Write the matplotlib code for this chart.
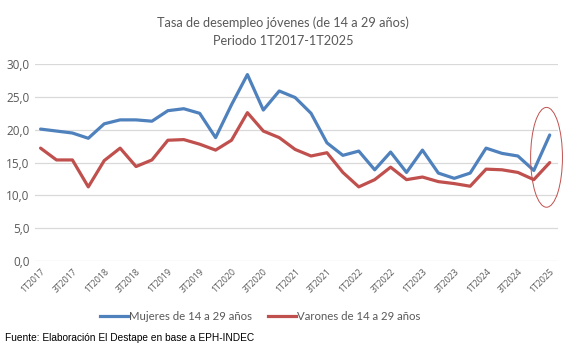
import matplotlib.pyplot as plt
from matplotlib.patches import Ellipse
from matplotlib.lines import Line2D

# quarters 1T2017 .. 1T2025
quarters = []
for year in range(2017, 2026):
    for q in range(1, 5):
        quarters.append(f"{q}T{year}")
quarters = quarters[:33]

mujeres = [20.1, 19.8, 19.5, 18.7, 20.9, 21.5, 21.5, 21.3, 22.9, 23.2, 22.5, 18.8,
           23.8, 28.4, 23.0, 25.9, 24.9, 22.5, 18.0, 16.1, 16.75, 13.9, 16.6, 13.5,
           16.9, 13.4, 12.6, 13.4, 17.2, 16.4, 16.0, 13.8, 19.2]
varones = [17.2, 15.4, 15.4, 11.3, 15.3, 17.2, 14.4, 15.4, 18.4, 18.5, 17.8, 16.9,
           18.4, 22.6, 19.8, 18.8, 17.0, 16.0, 16.5, 13.5, 11.3, 12.4, 14.3, 12.4,
           12.8, 12.1, 11.8, 11.4, 14.0, 13.9, 13.5, 12.4, 15.0]

blue = '#4f81bd'
red = '#c0504d'
gray = '#595959'

fig = plt.figure(figsize=(5.69, 3.5), dpi=100)
ax = fig.add_axes([0.0615, 0.254, 0.92, 0.563])

x = list(range(len(quarters)))
ax.plot(x, mujeres, color=blue, linewidth=2.3, solid_capstyle='round', zorder=3)
ax.plot(x, varones, color=red, linewidth=2.3, solid_capstyle='round', zorder=3)

# highlight of the last quarter
ax.add_patch(Ellipse((31.8, 15.8), 2.0, 15.2, fill=False, edgecolor=red,
                     linewidth=0.7, zorder=4, clip_on=False))

ax.set_xlim(-0.35, 32.55)
ax.set_ylim(0, 30)
yt = [0, 5, 10, 15, 20, 25, 30]
ax.set_yticks(yt)
ax.set_yticklabels([f"{v:.1f}".replace('.', ',') for v in yt], fontsize=8.5, color=gray, family='Open Sans')
ax.set_xticks(x[::2])
ax.set_xticklabels(quarters[::2], rotation=45, ha='right', rotation_mode='anchor',
                   fontsize=6.3, color=gray, family='Open Sans')
ax.tick_params(length=0, pad=4)
ax.yaxis.grid(True, color='#d9d9d9', linewidth=0.9)
ax.set_axisbelow(True)
for s in ax.spines.values():
    s.set_visible(False)

fig.text(0.497, 0.935, "Tasa de desempleo jóvenes (de 14 a 29 años)", ha='center', va='center',
         fontsize=9.2, color=gray, family='Lato')
fig.text(0.497, 0.884, "Periodo 1T2017-1T2025", ha='center', va='center',
         fontsize=9.2, color=gray, family='Lato')

handles = [Line2D([0], [0], color=blue, linewidth=2.3),
           Line2D([0], [0], color=red, linewidth=2.3)]
fig.legend(handles, ["Mujeres de 14 a 29 años", "Varones de 14 a 29 años"],
           loc='center', bbox_to_anchor=(0.458, 0.097), ncol=2, frameon=False,
           handlelength=2.4, handletextpad=0.15, columnspacing=1.4,
           prop={'family': 'Lato', 'size': 8.2}, labelcolor=gray)

fig.text(0.009, 0.034, "Fuente: Elaboración El Destape en base a EPH-INDEC", ha='left', va='center',
         fontsize=7.3, color='black', family='Liberation Sans')

fig.savefig('out.png', dpi=100)
